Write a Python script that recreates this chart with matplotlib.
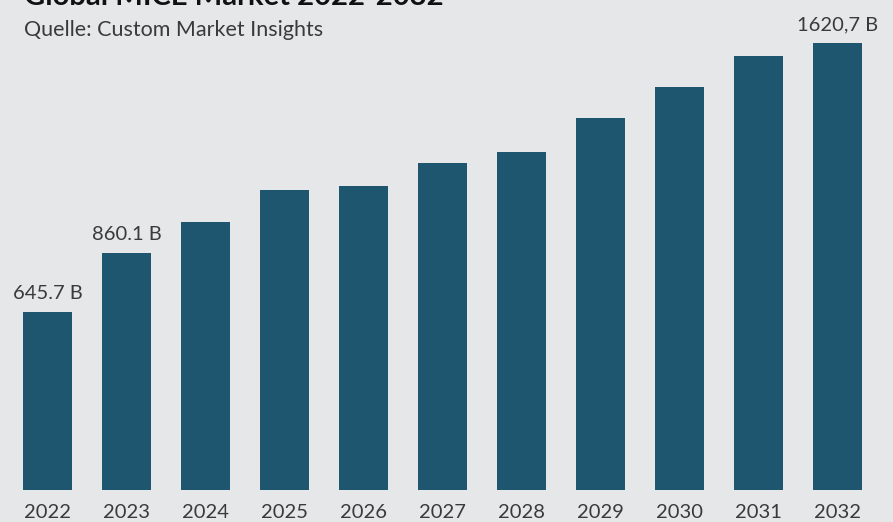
import matplotlib.pyplot as plt
import numpy as np

# Market size in billions
years = ['2022', '2023', '2024', '2025', '2026', '2027',
         '2028', '2029', '2030', '2031', '2032']
values = [645.7, 860.1, 972, 1088, 1103, 1186, 1226, 1349, 1462, 1574, 1620.7]
# Only first, second and last bars carry a label
labels = {0: '645.7 B', 1: '860.1 B', 10: '1620,7 B'}

bg = '#e6e7e9'
bar_color = '#1e5670'
text_color = '#3a3a3a'

plt.rcParams['font.family'] = ['Lato', 'DejaVu Sans']

fig = plt.figure(figsize=(8.93, 5.22), dpi=100, facecolor=bg)
ax = fig.add_axes([0, 32 / 522, 1, 490 / 522])
ax.set_facecolor(bg)

x = np.arange(len(years))
bars = ax.bar(x, values, width=0.62, color=bar_color)

for i, txt in labels.items():
    ax.annotate(txt, (x[i], values[i]), xytext=(0, 7), textcoords='offset points',
                ha='center', va='bottom', fontsize=14.5, color=text_color)

ax.set_xlim(-0.601, 10.696)
ax.set_ylim(0, 1777)
ax.set_xticks(x)
ax.set_xticklabels(years, fontsize=14.5, color=text_color)
ax.tick_params(axis='x', length=0, pad=10)
ax.set_yticks([])
for s in ax.spines.values():
    s.set_visible(False)

# Title is cut off at the top edge in the reference
fig.text(24 / 893, 1 - 5 / 522, 'Global MICE Market 2022-2032', fontsize=21,
         fontweight='bold', color='#111111', va='baseline', ha='left')
fig.text(24 / 893, 1 - 36 / 522, 'Quelle: Custom Market Insights', fontsize=15.5,
         color=text_color, va='baseline', ha='left')

fig.savefig('out.png', dpi=100, facecolor=bg)
